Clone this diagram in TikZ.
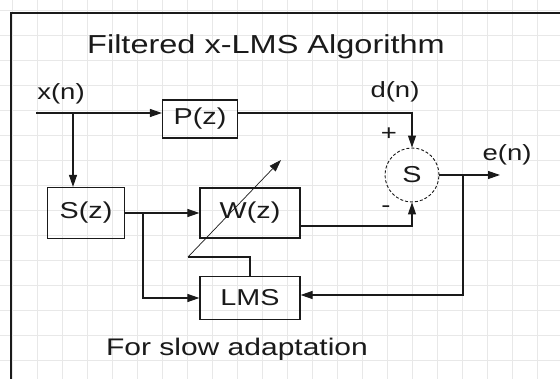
\documentclass[tikz,border=0pt]{standalone}
\usepackage{fontspec}
\newfontfamily\cadfont[FakeStretch=1.25]{Liberation Sans}
\usetikzlibrary{arrows.meta,calc}
\definecolor{gridgray}{HTML}{E8E8E8}
\definecolor{inkgray}{HTML}{1A1A1A}

\begin{document}
\begin{tikzpicture}[
  x=1pt,y=-1pt,
  font=\cadfont,
  gridline/.style={draw=gridgray,line width=0.6pt},
  blk/.style={draw=inkgray,line width=1.2pt,inner sep=0pt,text=inkgray,font=\cadfont\fontsize{23}{25}\selectfont},
  sumnode/.style={circle,draw=inkgray,densely dashed,line width=0.9pt,minimum size=54pt,inner sep=0pt,text=inkgray,font=\cadfont\fontsize{23}{25}\selectfont},
  lbl/.style={inner sep=0pt,text=inkgray,font=\cadfont\fontsize{22}{24}\selectfont},
  arr/.style={-{Triangle[length=12pt,width=8pt]},line width=1.1pt,draw=inkgray}
]
\useasboundingbox (0,0) rectangle (560,379);
\fill[white] (0,0) rectangle (560,379);
% grid
\foreach \gx in {12,37,...,560} \draw[gridline] (\gx,0) -- (\gx,379);
\foreach \gy in {10,35,...,379} \draw[gridline] (0,\gy) -- (560,\gy);
% frame
\draw[inkgray,line width=1.2pt] (11,379) -- (11,13) -- (560,13);

\node[inner sep=0pt,text=inkgray,font=\cadfont\fontsize{26}{28}\selectfont] (title) at (266,47) {Filtered x-LMS Algorithm};
\node[inner sep=0pt,text=inkgray,font=\cadfont\fontsize{24}{26}\selectfont] (note) at (237,349) {For slow adaptation};

% blocks
\node[blk,minimum width=75pt,minimum height=38pt] (P) at (200,119) {P(z)};
\node[blk,minimum width=77pt,minimum height=51pt] (Sz) at (86,213) {S(z)};
\node[blk,minimum width=100pt,minimum height=50pt] (W) at (250,213) {W(z)};
\node[blk,minimum width=100pt,minimum height=43pt] (LMS) at (250,298) {LMS};
\node[sumnode] (sum) at (412,175) {S};

% labels
\node[lbl] (xn) at (61,94) {x(n)};
\node[lbl] (dn) at (395,92) {d(n)};
\node[lbl] (en) at (507,155) {e(n)};
\node[lbl] (plus) at (389,134) {+};
\node[lbl] (minus) at (386,209) {-};

% points
\coordinate (xin) at (36,113);
\coordinate (xb) at (73,113);
\coordinate (br) at (143,213);
\coordinate (eout) at (500,175);
\coordinate (fb) at (463,175);
\coordinate (adj) at (188,257);
\coordinate (adjtip) at (281,160);

% connectors
\draw[arr] (xin) -- (xin -| P.west);
\draw[arr] (xb) -- (xb |- Sz.north);
\draw[arr] (xin -| P.east) -| (sum.north);
\draw[arr] (Sz.east) -- (W.west);
\draw[arr] (br) |- (LMS.west);
\draw[arr] ($(W.east)+(0,13)$) -| (sum.south);
\draw[arr] (sum.east) -- (eout);
\draw[arr] (fb) |- ($(LMS.east)+(0,-3)$);
\draw[inkgray,line width=1.1pt] (LMS.north) |- (adj);
\draw[-{Triangle[length=12pt,width=8pt]},inkgray,line width=0.7pt] (adj) -- (adjtip);
\end{tikzpicture}
\end{document}
